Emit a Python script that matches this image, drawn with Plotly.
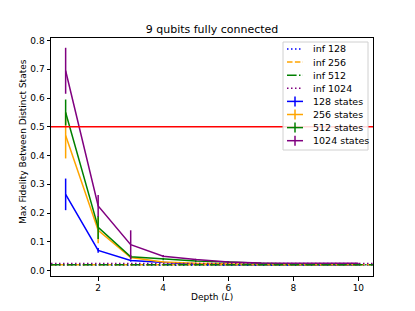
import plotly.graph_objects as go

depths = [1, 2, 3, 4, 5, 6, 7, 8, 9, 10]

fid_128 = [0.265, 0.070, 0.035, 0.028, 0.022, 0.020, 0.019, 0.019, 0.019, 0.019]
err_128 = [0.055, 0.008, 0.004, 0.002, 0.001, 0.001, 0.001, 0.001, 0.001, 0.001]

fid_256 = [0.470, 0.140, 0.045, 0.030, 0.025, 0.022, 0.021, 0.020, 0.020, 0.020]
err_256 = [0.080, 0.045, 0.006, 0.003, 0.002, 0.001, 0.001, 0.001, 0.001, 0.001]

fid_512 = [0.550, 0.150, 0.048, 0.040, 0.033, 0.030, 0.025, 0.023, 0.022, 0.022]
err_512 = [0.045, 0.040, 0.006, 0.004, 0.003, 0.003, 0.002, 0.001, 0.001, 0.001]

fid_1024 = [0.695, 0.225, 0.090, 0.050, 0.038, 0.030, 0.026, 0.025, 0.025, 0.025]
err_1024 = [0.080, 0.038, 0.050, 0.004, 0.003, 0.002, 0.001, 0.001, 0.001, 0.001]

inf_levels = [0.0185, 0.0205, 0.0205, 0.0245]
inf_names = ["inf 128", "inf 256", "inf 512", "inf 1024"]
series_names = ["128 states", "256 states", "512 states", "1024 states"]
colors = ["blue", "orange", "green", "purple"]
dashes = ["1.5px,2.5px", "5.5px,2.4px", "9.6px,2.4px,1.5px,2.4px", "1.5px,2.5px"]
threshold = 0.5

title_text = "9 qubits fully connected"
x_title = "Depth (<i>L</i>)"
y_title = "Max Fidelity Between Distinct States"

# page body has an 8px default margin; lay out in window pixels
OFF = 8
W, H = 415, 311
AX_L, AX_R, AX_T, AX_B = 51, 373, 38, 276  # plot area in window pixels
ML = AX_L - OFF
MT = AX_T - OFF
MR = W - (AX_R - OFF)
MB = H - (AX_B - OFF)
PW, PH = AX_R - AX_L, AX_B - AX_T


def px(x):
    return (x - AX_L) / PW


def py(y):
    return (AX_B - y) / PH


fig = go.Figure()

# inf horizontal lines (full width)
for lvl, c, d in zip(inf_levels, colors, dashes):
    fig.add_shape(type="line", xref="paper", x0=0, x1=1, yref="y", y0=lvl, y1=lvl,
                  line=dict(color=c, width=1.5, dash=d), layer="above")

fig.add_shape(type="line", xref="paper", x0=0, x1=1, yref="y", y0=threshold, y1=threshold,
              line=dict(color="red", width=1.5))

for vals, errs, name, c in zip([fid_128, fid_256, fid_512, fid_1024],
                               [err_128, err_256, err_512, err_1024],
                               series_names, colors):
    fig.add_trace(go.Scatter(x=depths, y=vals, mode="lines", name=name, showlegend=False,
                             line=dict(color=c, width=1.5),
                             error_y=dict(type="data", array=errs, visible=True,
                                          color=c, thickness=1.5, width=0)))

# manual legend (matplotlib-like compact box)
fig.add_shape(type="rect", xref="paper", yref="paper",
              x0=px(283), x1=px(368), y0=py(150), y1=py(42),
              line=dict(color="#d0d0d0", width=1), fillcolor="rgba(255,255,255,0.85)",
              layer="above")
labels = inf_names + series_names
lcolors = colors + colors
ldashes = dashes + ["solid"] * 4
y0 = 49.0
step = 13.1
for i, (lab, c, d) in enumerate(zip(labels, lcolors, ldashes)):
    yc = y0 + i * step
    fig.add_shape(type="line", xref="paper", yref="paper",
                  x0=px(287), x1=px(303), y0=py(yc), y1=py(yc),
                  line=dict(color=c, width=1.5, dash=d), layer="above")
    if i >= 4:
        fig.add_shape(type="line", xref="paper", yref="paper",
                      x0=px(295), x1=px(295), y0=py(yc - 5), y1=py(yc + 5),
                      line=dict(color=c, width=1.5), layer="above")
    fig.add_annotation(xref="paper", yref="paper", x=px(311), y=py(yc),
                       text=lab, showarrow=False, xanchor="left", yanchor="middle",
                       font=dict(size=9.5, color="black"))

# axis titles placed like matplotlib
fig.add_annotation(xref="paper", yref="paper", x=px(212), y=py(297), text=x_title,
                   showarrow=False, xanchor="center", yanchor="middle",
                   font=dict(size=9, color="black"))
fig.add_annotation(xref="paper", yref="paper", x=px(23), y=py(142), text=y_title,
                   showarrow=False, xanchor="center", yanchor="middle", textangle=-90,
                   font=dict(size=9, color="black"))

axis_common = dict(showline=True, linecolor="black", linewidth=1, mirror=True,
                   ticks="outside", ticklen=3.5, tickcolor="black", showgrid=False,
                   zeroline=False, tickfont=dict(size=9, color="black"), automargin=False)

fig.update_layout(
    width=W, height=H,
    margin=dict(l=ML, r=MR, t=MT, b=MB),
    paper_bgcolor="white", plot_bgcolor="white",
    font=dict(family="DejaVu Sans", size=9, color="black"),
    title=dict(text=title_text, x=0.5, xref="paper", xanchor="center",
               y=1, yref="paper", yanchor="bottom", pad=dict(b=5),
               font=dict(size=11, color="black")),
    xaxis=dict(range=[0.55, 10.45], tickvals=[2, 4, 6, 8, 10], **axis_common),
    yaxis=dict(range=[-0.019, 0.809], tickvals=[0, 0.1, 0.2, 0.3, 0.4, 0.5, 0.6, 0.7, 0.8],
               tickformat=".1f", **axis_common),
    showlegend=False,
)

fig.write_html("out.html")
